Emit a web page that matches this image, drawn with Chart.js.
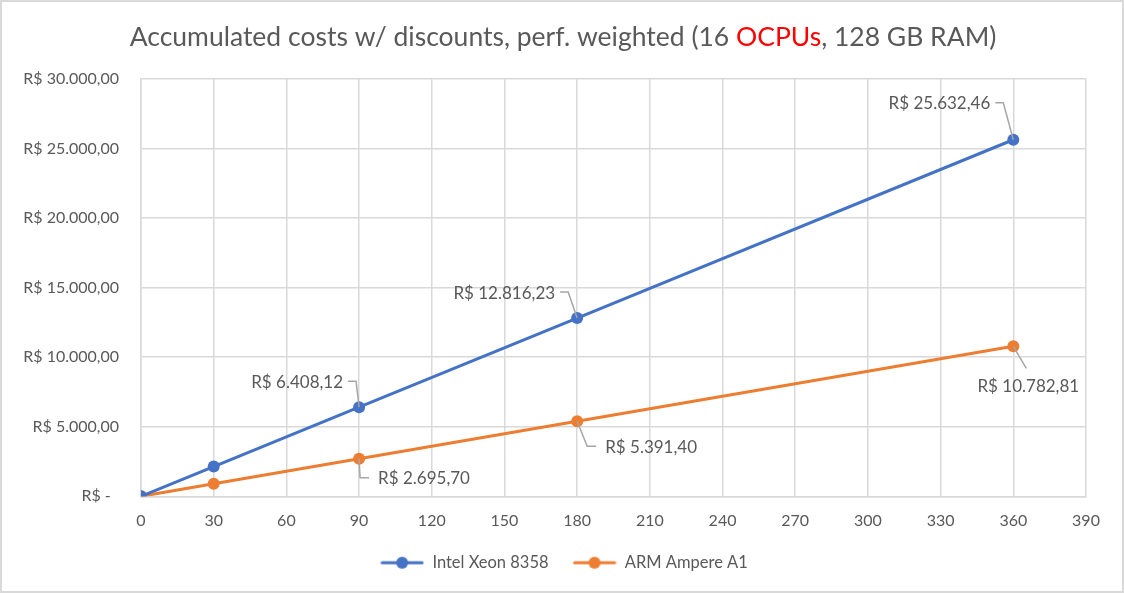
<!DOCTYPE html>
<html>
<head>
<meta charset="utf-8">
<script src="https://cdn.jsdelivr.net/npm/chart.js@4.4.1/dist/chart.umd.min.js"></script>
<style>
  html, body { margin: 0; padding: 0; background: #fff; }
  #wrap { width: 1124px; height: 593px; position: relative; }
</style>
</head>
<body>
<div id="wrap"><canvas id="myChart"></canvas></div>
<script>
// data
const days = [0, 30, 90, 180, 360];
const intelCosts = [0, 2136.04, 6408.12, 12816.23, 25632.46];
const armCosts = [0, 898.57, 2695.70, 5391.40, 10782.81];
const xTicks = [0, 30, 60, 90, 120, 150, 180, 210, 240, 270, 300, 330, 360, 390];
const yTicks = [0, 5000, 10000, 15000, 20000, 25000, 30000];
const seriesNames = ["Intel Xeon 8358", "ARM Ampere A1"];
// which points get a label (index in days)
const labelledPoints = [2, 3, 4];

const BLUE = "#4472C4";
const ORANGE = "#ED7D31";
const GRID = "#D9D9D9";
const TEXT = "#595959";
const FONT = "Lato, 'Open Sans', sans-serif";

const brl = (v) => {
    if (v === 0) return "R$ -  ";
    const parts = v.toFixed(2).split(".");
    const int = parts[0].replace(/\B(?=(\d{3})+(?!\d))/g, ".");
    return "R$ " + int + "," + parts[1];
}

const toPoints = (ys) => days.map((d, i) => ({ x: d, y: ys[i] }));

// legend marker: line with a dot
const legendMarker = (color) => {
    const c = document.createElement("canvas");
    c.width = 44; c.height = 14;
    const g = c.getContext("2d");
    g.strokeStyle = color;
    g.lineWidth = 3;
    g.lineCap = "round";
    g.beginPath(); g.moveTo(2, 7); g.lineTo(42, 7); g.stroke();
    g.fillStyle = color;
    g.beginPath(); g.arc(22, 7, 6, 0, Math.PI * 2); g.fill();
    return c;
}

// where the leader bends, relative to the point: [dx, dy, side]
const labelOffsets = [
    { 2: [-3, -26, "left"], 3: [-9, -26, "left"], 4: [-10, -37, "left"] },
    { 2: [ 1, 19, "right"], 3: [10, 25, "right"], 4: [13, 22, "below"] }
];

const titlePlugin = {
    id: "titleDraw",
    afterLayout(chart) {
        // centre the legend on the whole picture, not on the plot
        const lg = chart.legend;
        lg.left += 21;
        lg.right += 21;
    },
    afterDraw(chart) {
        const ctx = chart.ctx;
        const parts = [
            ["Accumulated costs w/ discounts, perf. weighted (16 ", TEXT],
            ["OCPUs", "#FF0000"],
            [", 128 GB RAM)", TEXT]
        ];
        ctx.save();
        ctx.font = "26.5px " + FONT;
        ctx.textBaseline = "middle";
        let total = 0;
        parts.forEach(p => total += ctx.measureText(p[0]).width);
        let x = 563 - total / 2;
        parts.forEach(p => {
            ctx.fillStyle = p[1];
            ctx.fillText(p[0], x, 37);
            x += ctx.measureText(p[0]).width;
        });
        // outer frame
        ctx.strokeStyle = GRID;
        ctx.lineWidth = 2;
        ctx.strokeRect(1, 1, chart.width - 2, chart.height - 2);
        ctx.restore();
    }
};

const dataLabels = {
    id: "leaderLabels",
    afterDatasetsDraw(chart) {
        const ctx = chart.ctx;
        ctx.save();
        ctx.font = "17px " + FONT;
        ctx.textBaseline = "middle";
        chart.data.datasets.forEach((ds, di) => {
            const meta = chart.getDatasetMeta(di);
            labelledPoints.forEach(i => {
                const pt = meta.data[i];
                const [dx, dy, side] = labelOffsets[di][i];
                const text = brl(ds.data[i].y);
                const ex = pt.x + dx, ey = pt.y + dy;
                ctx.strokeStyle = "#A6A6A6";
                ctx.lineWidth = 1.5;
                ctx.beginPath();
                ctx.moveTo(pt.x, pt.y);
                ctx.lineTo(ex, ey);
                ctx.fillStyle = TEXT;
                if (side === "left") {
                    ctx.lineTo(ex - 8, ey);
                    ctx.stroke();
                    ctx.textAlign = "right";
                    ctx.fillText(text, ex - 13, ey + 1);
                } else if (side === "right") {
                    ctx.lineTo(ex + 9, ey);
                    ctx.stroke();
                    ctx.textAlign = "left";
                    ctx.fillText(text, ex + 18, ey + 1);
                } else {
                    ctx.stroke();
                    ctx.textAlign = "center";
                    ctx.fillText(text, ex + 2, ey + 18);
                }
            });
        });
        ctx.restore();
    }
};

const conf = {
    type: "scatter",
    data: {
        datasets: [
            {
                label: seriesNames[0],
                data: toPoints(intelCosts),
                showLine: true,
                borderColor: BLUE,
                backgroundColor: BLUE,
                borderWidth: 3,
                pointRadius: 6,
                pointHoverRadius: 6,
                pointBorderWidth: 0
            },
            {
                label: seriesNames[1],
                data: toPoints(armCosts),
                showLine: true,
                borderColor: ORANGE,
                backgroundColor: ORANGE,
                borderWidth: 3,
                pointRadius: 6,
                pointHoverRadius: 6,
                pointBorderWidth: 0
            }
        ]
    },
    options: {
        responsive: true,
        maintainAspectRatio: false,
        animation: false,
        layout: { padding: { top: 79, left: 0, right: 38, bottom: 12 } },
        scales: {
            x: {
                type: "linear",
                min: 0, max: 390,
                afterBuildTicks: (s) => { s.ticks = xTicks.map(v => ({ value: v })); },
                afterFit: (s) => { s.height -= 15; },
                ticks: { color: TEXT, font: { family: FONT, size: 16 }, padding: 15 },
                grid: { color: GRID, lineWidth: 1.5, drawTicks: false },
                border: { color: GRID, width: 1.5 }
            },
            y: {
                min: 0, max: 30000,
                afterBuildTicks: (s) => { s.ticks = yTicks.map(v => ({ value: v })); },
                afterFit: (s) => { s.width = 141; },
                ticks: { color: TEXT, font: { family: FONT, size: 16 }, padding: 22, callback: (v) => brl(v) },
                grid: { color: GRID, lineWidth: 1.5, drawTicks: false },
                border: { color: GRID, width: 1.5 }
            }
        },
        plugins: {
            legend: {
                position: "bottom",
                labels: {
                    color: TEXT,
                    font: { family: FONT, size: 16.5 },
                    usePointStyle: true,
                    pointStyleWidth: 44,
                    boxHeight: 14,
                    padding: 24,
                    generateLabels: (chart) => chart.data.datasets.map((ds, i) => ({
                        text: ds.label,
                        pointStyle: legendMarker(ds.borderColor),
                        fontColor: TEXT,
                        lineWidth: 0,
                        datasetIndex: i
                    }))
                }
            },
            tooltip: { enabled: false }
        }
    },
    plugins: [titlePlugin, dataLabels]
};

new Chart(document.getElementById("myChart"), conf);
</script>
</body>
</html>
